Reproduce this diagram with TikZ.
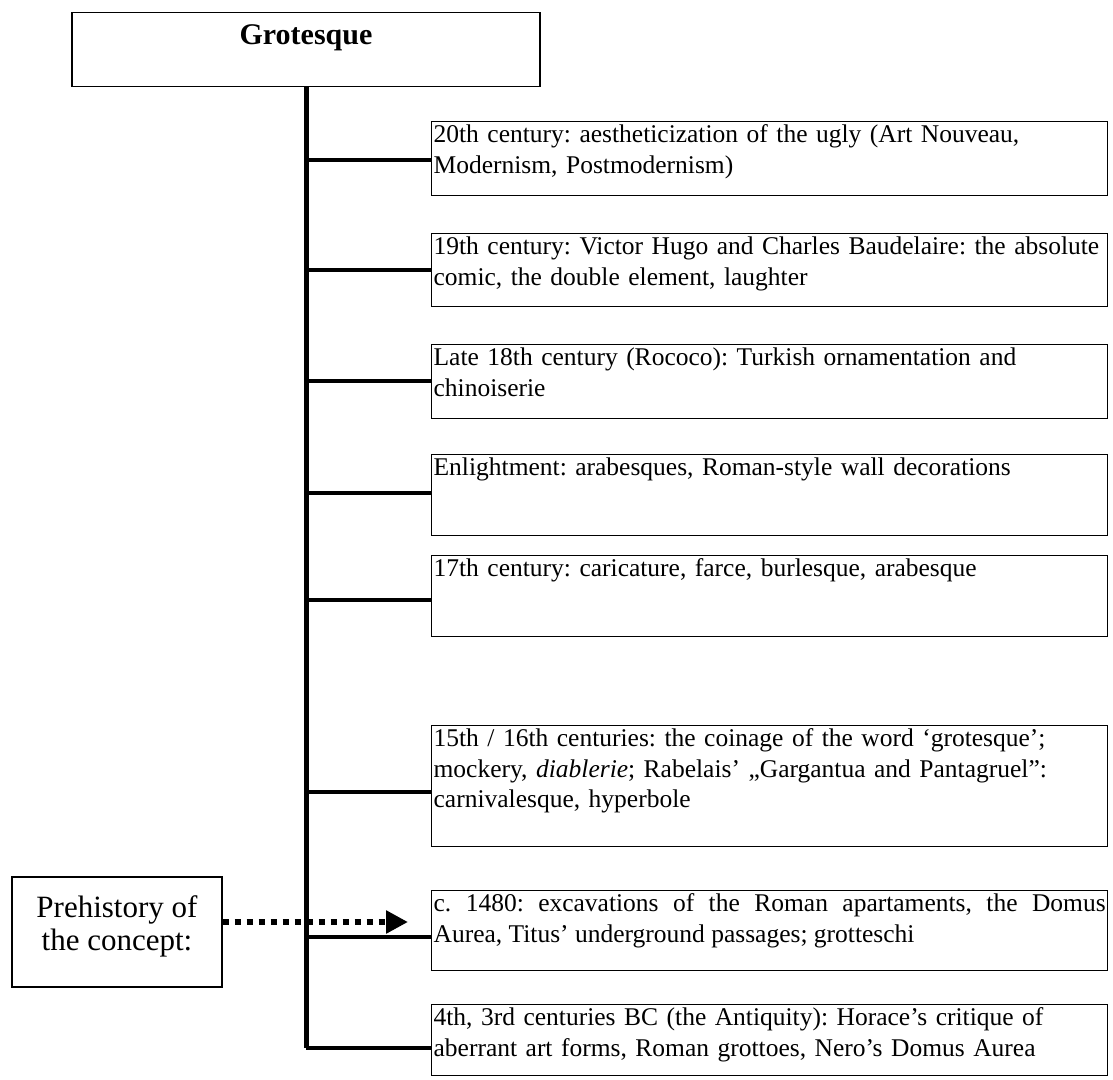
\documentclass[tikz,border=0pt]{standalone}
\usepackage{fontspec}
\setmainfont{Liberation Serif}
\usetikzlibrary{arrows.meta, positioning}
\frenchspacing
\hyphenpenalty=10000
\tikzset{
  headbox/.style={draw=black,line width=1.3pt,minimum width=468pt,inner ysep=10pt,text height=22pt,text depth=32pt,font=\fontsize{30}{34}\selectfont\bfseries},
  evbox/.style={draw=black,line width=1.3pt,anchor=north west,inner xsep=2pt,inner ysep=3pt,text width=672pt,align=left,text height=18pt,font=\fontsize{25.5}{30.5}\selectfont},
  prebox/.style={draw=black,line width=1.3pt,minimum width=210pt,minimum height=110pt,align=center,text depth=17pt,font=\fontsize{31}{33}\selectfont},
  trunkline/.style={line width=5pt,black},
  branchline/.style={line width=4pt,black},
  dotarrow/.style={-{Triangle[length=22pt,width=22pt]},line width=6pt,dash pattern=on 6pt off 6pt,black},
}
\begin{document}
\begin{tikzpicture}[x=1pt,y=-1pt]
  \useasboundingbox[fill=white] (0,0) rectangle (1113,1079);
  \node[headbox,anchor=north] (grot) at (306,12) {Grotesque};
  \node[evbox,text depth=50pt] (e1) at (431,121) {20th century: aestheticization of the ugly (Art Nouveau,\\Modernism, Postmodernism)};
  \node[evbox,text depth=49pt] (e2) at (431,233) {19th century: Victor Hugo and Charles Baudelaire: the absolute\\comic, the double element, laughter};
  \node[evbox,text depth=50pt] (e3) at (431,344) {Late 18th century (Rococo): Turkish ornamentation and\\chinoiserie};
  \node[evbox,text depth=57pt] (e4) at (431,454) {Enlightment: arabesques, Roman-style wall decorations};
  \node[evbox,text depth=57pt] (e5) at (431,555) {17th century: caricature, farce, burlesque, arabesque};
  \node[evbox,text depth=97pt] (e6) at (431,725) {15th / 16th centuries: the coinage of the word ‘grotesque’;\\mockery, \textit{diablerie}; Rabelais’ „Gargantua and Pantagruel”:\\carnivalesque, hyperbole};
  \node[evbox,align=justify,text depth=56pt] (e7) at (431,890) {c. 1480: excavations of the Roman apartaments, the Domus\linebreak Aurea, Titus’ underground passages; grotteschi};
  \node[evbox,text depth=47pt] (e8) at (431,1004) {4th, 3rd centuries BC (the Antiquity): Horace’s critique of\\aberrant art forms, Roman grottoes, Nero’s Domus Aurea};
  \node[prebox] (pre) at (117,932) {Prehistory of\\the concept:};
  % trunk and branches
  \coordinate (tend) at (306,1048);
  \draw[trunkline] (grot.south) -- (tend);
  \foreach \n/\y in {1/160,2/270,3/381,4/493,5/600,6/792,7/937,8/1048} {
    \coordinate (t\n) at (306,\y);
    \draw[branchline] (t\n) -- (t\n -| e\n.west);
  }
  \coordinate (arrtip) at (408,922);
  \draw[dotarrow] (pre.east |- arrtip) -- (arrtip);
\end{tikzpicture}
\end{document}
